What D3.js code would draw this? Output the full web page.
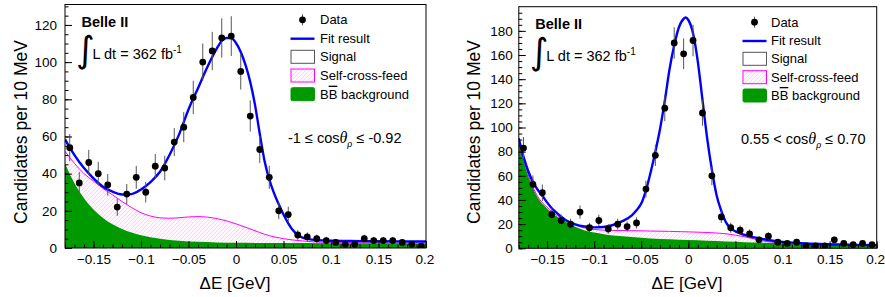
<!DOCTYPE html>
<html>
<head>
<meta charset="utf-8">
<script src="https://cdn.jsdelivr.net/npm/d3@7"></script>
<style>
body { margin: 0; background: #fff; }
svg text { font-family: "Liberation Sans", Arial, Helvetica, sans-serif; fill: #000; }
</style>
</head>
<body>
<svg id="chart" width="885" height="297"></svg>
<script>
// bin centres (10 MeV bins), shared by both panels
var binCenters = [-0.175,-0.165,-0.155,-0.145,-0.135,-0.125,-0.115,-0.105,-0.095,-0.085,
                  -0.075,-0.065,-0.055,-0.045,-0.035,-0.025,-0.015,-0.005,0.005,0.015,
                  0.025,0.035,0.045,0.055,0.065,0.075,0.085,0.095,0.105,0.115,
                  0.125,0.135,0.145,0.155,0.165,0.175,0.185,0.195];

// left panel: -1 <= cos(theta_rho) <= -0.92
var leftCounts = [54,35,46,40,34,22,29,38,30,44, 43,57,65,81,100,106,113,114,95,71,
                  53,38,20,18,7,6,5,4,3,2, 2,5,4,4,4,3,2,1];
var leftErrors = [7.3,5.9,6.8,6.3,5.8,4.7,5.4,6.2,5.5,6.6, 6.6,7.5,8.1,9.0,10.0,10.3,10.6,10.7,9.7,8.4,
                  7.3,6.2,4.5,4.2,2.6,2.4,2.2,2.0,1.7,1.4, 1.4,2.2,2.0,2.0,2.0,1.7,1.4,1.0];
var leftFitX = [-0.18,-0.17,-0.16,-0.15,-0.14,-0.13,-0.12,-0.11,-0.10,-0.09,-0.08,-0.07,-0.06,-0.05,-0.04,-0.03,-0.02,
                -0.015,-0.01,-0.005,0,0.005,0.01,0.015,0.02,0.025,0.03,0.035,0.04,0.045,0.05,0.055,0.06,0.065,0.07,
                0.08,0.09,0.10,0.12,0.15,0.2];
var leftFitY = [58.5,50,43,37.5,33,30.3,28.8,29,31.5,35.5,41,50,61,74.5,86,97.5,107.5,
                111.5,113,113,110.3,105.5,98.5,89.3,77,61.5,47,37,29.5,23.5,18,13.3,9.5,7,5.6,
                4.5,4.1,3.9,3.8,3.6,3.5];
var leftScfX = [-0.18,-0.17,-0.16,-0.15,-0.14,-0.13,-0.12,-0.11,-0.10,-0.09,-0.08,-0.07,-0.06,-0.05,-0.04,-0.03,
                -0.02,-0.01,0,0.01,0.02,0.03,0.04,0.05,0.06,0.07,0.08,0.09,0.10,0.12,0.15,0.2];
var leftScfY = [52,45.5,40,36,32,28.6,25,21.8,19,17.2,16.2,16,16.3,16.7,16.9,16.6,
                15.8,14.6,13,11.2,9.3,7.4,6,5,4.3,3.8,3.4,3.1,3.0,2.9,2.8,2.7];
var leftBBX = [-0.18,-0.17,-0.16,-0.15,-0.14,-0.13,-0.12,-0.11,-0.10,-0.09,-0.08,-0.06,-0.04,-0.02,0,0.05,0.1,0.15,0.2];
var leftBBY = [45.5,34.8,26.8,20.7,16.2,12.8,10.2,8.3,6.9,5.8,5.0,3.9,3.3,3.0,2.8,2.7,2.6,2.5,2.4];

// right panel: 0.55 < cos(theta_rho) <= 0.70
var rightCounts = [83,53,46,28,23,20,30,17,23,16, 20,18,21,49,77,116,170,161,172,112,
                   60,26,17,15,12,7,10,5,4,5, 2,2,2,7,4,3,4,3];
var rightErrors = [9.1,7.3,6.8,5.3,4.8,4.5,5.5,4.1,4.8,4.0, 4.5,4.2,4.6,7.0,8.8,10.8,13.0,12.7,13.1,10.6,
                   7.7,5.1,4.1,3.9,3.5,2.6,3.2,2.2,2.0,2.2, 1.4,1.4,1.4,2.6,2.0,1.7,2.0,1.7];
var rightFitX = [-0.18,-0.175,-0.17,-0.165,-0.16,-0.155,-0.15,-0.145,-0.14,-0.13,-0.12,-0.11,-0.10,-0.09,-0.08,-0.07,-0.06,
                 -0.055,-0.05,-0.045,-0.04,-0.035,-0.03,-0.025,-0.02,-0.015,-0.01,-0.005,-0.003,0,
                 0.005,0.01,0.015,0.02,0.025,0.03,0.035,0.04,0.045,0.05,0.055,0.06,
                 0.07,0.08,0.09,0.10,0.12,0.14,0.16,0.18,0.2];
var rightFitY = [91,76,64,55,48.5,43.5,38,33.2,29.5,23.2,19.8,18,17.3,17.6,19.3,22.5,27.3,
                 31.5,37,48,63,80,99,122,148,168,183,190,191,189,
                 178,155,123,91,65,44,31,21.5,16.5,14,12.4,11,
                 9,7.5,6.3,5.3,4.2,3.5,3.1,2.8,2.6];
var rightScfX = [-0.18,-0.17,-0.16,-0.15,-0.14,-0.13,-0.12,-0.11,-0.10,-0.09,-0.08,-0.06,-0.04,-0.02,0,
                 0.02,0.04,0.06,0.08,0.10,0.12,0.14,0.16,0.18,0.2];
var rightScfY = [89,61,43,34,27.5,22.8,19.2,16.8,15.6,15,14.8,14.6,14.3,14,13.6,
                 13.1,12,9.5,6,4.3,3.7,3.3,3.0,2.8,2.6];
var rightBBX = [-0.18,-0.17,-0.16,-0.15,-0.14,-0.13,-0.12,-0.11,-0.10,-0.09,-0.08,-0.06,-0.04,-0.02,0,
                0.02,0.04,0.06,0.08,0.10,0.12,0.14,0.16,0.18,0.2];
var rightBBY = [88,60,42,33,26.5,21.7,17.8,14.8,13,11.7,10.5,9.3,8.2,7.4,6.8,
                6.2,5.6,5.0,4.5,4.0,3.6,3.3,3.0,2.8,2.6];

// axis ticks
var xTicks = [-0.15,-0.1,-0.05,0,0.05,0.1,0.15,0.2];
var xTickLabels = ["\u22120.15","\u22120.1","\u22120.05","0","0.05","0.1","0.15","0.2"];
var leftYTicks = [0,20,40,60,80,100,120];
var rightYTicks = [0,20,40,60,80,100,120,140,160,180];
var legendLabels = ["Data","Fit result","Signal","Self-cross-feed","BB background"];

var xDomain = [-0.18, 0.2];
var green = "#009900", blue = "#0000ff", magenta = "#ff00ff";

var svg = d3.select("#chart");
var defs = svg.append("defs");

// light pink hatching for the self-cross-feed component
var hatch = defs.append("pattern").attr("id", "scfHatch")
    .attr("patternUnits", "userSpaceOnUse").attr("width", 4).attr("height", 4);
hatch.append("rect").attr("width", 4).attr("height", 4).style("fill", "#fff6fe");
hatch.append("path").attr("d", "M-1,1 l2,-2 M0,4 l4,-4 M3,5 l2,-2")
    .style("fill", "none").style("stroke", "#ffc6f6").style("stroke-width", 0.7);

function pts(xs, ys) {
    return xs.map(function(v, i) { return [v, ys[i]]; });
}

function drawPanel(p) {
    var x = d3.scaleLinear().domain(xDomain).range([p.left, p.right]);
    var y = d3.scaleLinear().domain([0, p.yMax]).range([p.bottom, p.top]);
    var g = svg.append("g");

    defs.append("clipPath").attr("id", "clip" + p.id).append("rect")
        .attr("x", p.left).attr("y", p.top)
        .attr("width", p.right - p.left).attr("height", p.bottom - p.top);
    var plot = g.append("g").attr("clip-path", "url(#clip" + p.id + ")");

    var area = d3.area()
        .x(function(d) { return x(d[0]); })
        .y0(y(0))
        .y1(function(d) { return y(d[1]); })
        .curve(d3.curveMonotoneX);
    var line = d3.line()
        .x(function(d) { return x(d[0]); })
        .y(function(d) { return y(d[1]); })
        .curve(d3.curveMonotoneX);

    // self-cross-feed stacked on top of BB background
    plot.append("path").datum(pts(p.scfX, p.scfY))
        .attr("fill", "url(#scfHatch)").attr("d", area);
    plot.append("path").datum(pts(p.bbX, p.bbY))
        .attr("fill", green).attr("d", area);
    plot.append("path").datum(pts(p.scfX, p.scfY))
        .attr("fill", "none").attr("stroke", magenta).attr("stroke-width", 1).attr("d", line);
    plot.append("path").datum(pts(p.fitX, p.fitY))
        .attr("fill", "none").attr("stroke", blue).attr("stroke-width", 2.4).attr("d", line);

    // data points
    var data = binCenters.map(function(c, i) { return {x: c, n: p.counts[i], e: p.errors[i]}; });
    plot.selectAll(".err").data(data).enter().append("line")
        .attr("class", "err")
        .attr("x1", function(d) { return x(d.x); })
        .attr("x2", function(d) { return x(d.x); })
        .attr("y1", function(d) { return y(d.n - d.e); })
        .attr("y2", function(d) { return y(d.n + d.e); })
        .attr("stroke", "#555").attr("stroke-width", 1);
    plot.selectAll(".pt").data(data).enter().append("circle")
        .attr("class", "pt")
        .attr("cx", function(d) { return x(d.x); })
        .attr("cy", function(d) { return y(d.n); })
        .attr("r", 3.4).attr("fill", "#000");

    // axes, ticks pointing inwards
    function styleAxis(s, size) {
        s.select(".domain").remove();
        s.selectAll("line").attr("stroke", "#000");
        s.selectAll("text").attr("font-size", size)
            .attr("font-family", "'Liberation Sans', Arial, Helvetica, sans-serif");
    }
    g.append("g").attr("transform", "translate(0," + p.bottom + ")")
        .call(d3.axisBottom(x).tickValues(d3.range(-18, 21).map(function(k) { return k / 100; }))
            .tickSize(-3.5).tickFormat(""))
        .call(styleAxis, 13.5);
    var xa = g.append("g").attr("transform", "translate(0," + p.bottom + ")")
        .call(d3.axisBottom(x).tickValues(xTicks).tickSize(-7).tickPadding(6.5)
            .tickFormat(function(d, i) { return xTickLabels[i]; }))
        .call(styleAxis, 13.5);
    xa.selectAll("text").filter(function(d) { return d == 0.2; }).attr("dx", -1.5);
    g.append("g").attr("transform", "translate(" + p.left + ",0)")
        .call(d3.axisLeft(y).tickValues(d3.range(0, p.yMax, 5)).tickSize(-3.5).tickFormat(""))
        .call(styleAxis, 13.5);
    g.append("g").attr("transform", "translate(" + p.left + ",0)")
        .call(d3.axisLeft(y).tickValues(p.yTicks).tickSize(-7).tickPadding(p.yPad).tickFormat(d3.format("d")))
        .call(styleAxis, p.yFont);

    g.append("rect")
        .attr("x", p.left).attr("y", p.top)
        .attr("width", p.right - p.left).attr("height", p.bottom - p.top)
        .attr("fill", "none").attr("stroke", "#000").attr("stroke-width", 1);

    // axis titles
    g.append("text")
        .attr("transform", "translate(" + p.yTitleX + ",132) rotate(-90)")
        .attr("text-anchor", "middle").attr("font-size", 17.5)
        .text("Candidates per 10 MeV");
    g.append("text")
        .attr("x", p.xTitleX).attr("y", 288.5)
        .attr("text-anchor", "middle").attr("font-size", 17)
        .text("\u0394E [GeV]");

    // Belle II label and luminosity
    g.append("text").attr("x", p.left + 16.5).attr("y", p.top + 22.5)
        .attr("font-size", 14.5).attr("font-weight", "bold").text("Belle II");
    g.append("text").attr("x", p.left + 11).attr("y", p.top + 57)
        .attr("font-size", 36).style("font-family", "'DejaVu Sans', sans-serif")
        .text("\u222B");
    var lum = g.append("text").attr("x", p.left + 27.5).attr("y", p.top + 54)
        .attr("font-size", 14.5);
    lum.append("tspan").text("L dt = 362 fb");
    lum.append("tspan").attr("dy", -6).attr("font-size", 10).text("-1");

    // cut label
    var cut = g.append("text").attr("x", p.cutX).attr("y", p.cutY).attr("font-size", 14.5);
    cut.append("tspan").text(p.cutPre + "cos");
    cut.append("tspan").style("font-family", "'Liberation Serif', serif").style("font-style", "italic")
        .attr("font-size", 16).text("\u03B8");
    cut.append("tspan").style("font-family", "'Liberation Serif', serif").style("font-style", "italic")
        .attr("font-size", 10.5).attr("dy", 4).text("\u03C1");
    cut.append("tspan").attr("dy", -4).text(" " + p.cutPost);

    // legend
    var lg = g.append("g");
    var bx = p.legX, tx = p.legX + p.legGap + 24;
    var ly = p.legY;
    lg.append("line").attr("x1", bx + 12).attr("x2", bx + 12)
        .attr("y1", ly[0] - 10).attr("y2", ly[0] + 1).attr("stroke", "#555").attr("stroke-width", 1);
    lg.append("circle").attr("cx", bx + 12).attr("cy", ly[0] - 4.5).attr("r", 3.4).attr("fill", "#000");
    lg.append("line").attr("x1", bx).attr("x2", bx + 24)
        .attr("y1", ly[1] - 4).attr("y2", ly[1] - 4).attr("stroke", blue).attr("stroke-width", 2.4);
    lg.append("rect").attr("x", bx + 0.5).attr("y", ly[2] - 11).attr("width", 23.5).attr("height", 13)
        .attr("fill", "#fff").attr("stroke", "#555").attr("stroke-width", 1);
    lg.append("rect").attr("x", bx + 0.5).attr("y", ly[3] - 11).attr("width", 23.5).attr("height", 13)
        .attr("fill", "url(#scfHatch)").attr("stroke", magenta).attr("stroke-width", 1);
    lg.append("rect").attr("x", bx + 0.5).attr("y", ly[4] - 11).attr("width", 23.5).attr("height", 13)
        .attr("rx", 1.5).attr("fill", green).attr("stroke", green).attr("stroke-width", 1);
    legendLabels.forEach(function(lab, i) {
        var t = lg.append("text").attr("x", tx).attr("y", ly[i]).attr("font-size", 13);
        if (i == 4) {
            t.append("tspan").text("B");
            t.append("tspan").style("text-decoration", "overline").text("B");
            t.append("tspan").text(" background");
        } else {
            t.text(lab);
        }
    });
}

drawPanel({
    id: "L", left: 65, right: 426, top: 4.5, bottom: 248, yMax: 131,
    counts: leftCounts, errors: leftErrors,
    fitX: leftFitX, fitY: leftFitY, scfX: leftScfX, scfY: leftScfY, bbX: leftBBX, bbY: leftBBY,
    yTicks: leftYTicks, yPad: 8, yFont: 13.5, yTitleX: 27, xTitleX: 235,
    cutX: 288, cutY: 142.7, cutPre: "-1 \u2264 ", cutPost: "\u2264 -0.92",
    legX: 290.5, legGap: 5.5, legY: [24.3, 42.7, 61.3, 80, 98.7]
});
drawPanel({
    id: "R", left: 518.8, right: 876.7, top: 6.7, bottom: 248.3, yMax: 200,
    counts: rightCounts, errors: rightErrors,
    fitX: rightFitX, fitY: rightFitY, scfX: rightScfX, scfY: rightScfY, bbX: rightBBX, bbY: rightBBY,
    yTicks: rightYTicks, yPad: 6, yFont: 13.5, yTitleX: 480, xTitleX: 687,
    cutX: 741, cutY: 144, cutPre: "0.55 < ", cutPost: "\u2264 0.70",
    legX: 742.5, legGap: 4.5, legY: [26.7, 45, 63.3, 81.7, 100]
});
</script>
</body>
</html>
